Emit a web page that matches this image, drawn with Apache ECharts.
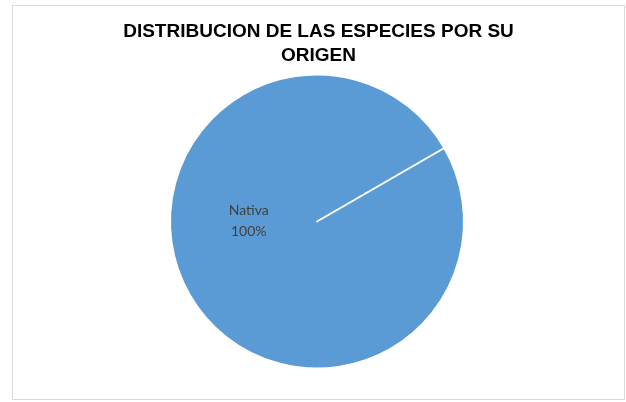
<!DOCTYPE html>
<html>
<head>
<meta charset="utf-8">
<script src="https://cdn.jsdelivr.net/npm/echarts@6/dist/echarts.min.js"></script>
<style>
html,body{margin:0;padding:0;background:#fff;}
#frame{position:absolute;left:12px;top:5px;width:611px;height:393px;border:1px solid #d9d9d9;}
#chart{width:611px;height:393px;}
</style>
</head>
<body>
<div id="frame"><div id="chart"></div></div>
<script>
var titleText = 'DISTRIBUCION DE LAS ESPECIES POR SU\nORIGEN';
var categories = ['Nativa', ''];
var values = [100, 0];
var percentLabels = ['100%', ''];

var chart = echarts.init(document.getElementById('chart'), null, {renderer: 'canvas'});
var data = categories.map(function (c, i) {
  var item = {name: c, value: values[i]};
  if (values[i] === 0) {
    item.label = {show: false};
    item.labelLine = {show: false};
  }
  return item;
});
chart.setOption({
  animation: false,
  title: {
    text: titleText,
    left: 'center',
    top: 9,
    textStyle: {fontFamily: 'Liberation Sans, Arial', fontWeight: 'bold', fontSize: 19, color: '#000', lineHeight: 24}
  },
  series: [{
    type: 'pie',
    center: [304, 215.5],
    radius: 147,
    startAngle: 30,
    clockwise: true,
    stillShowZeroSum: true,
    avoidLabelOverlap: false,
    itemStyle: {color: '#5b9bd5', borderColor: '#ffffff', borderWidth: 2},
    label: {
      show: true,
      position: 'inside',
      offset: [-2, -39],
      formatter: function (p) { return p.name + '\n' + percentLabels[p.dataIndex]; },
      fontFamily: 'Lato, Open Sans, sans-serif',
      fontSize: 14,
      lineHeight: 21,
      color: '#404040'
    },
    labelLine: {show: false},
    emphasis: {disabled: true},
    data: data
  }]
});
</script>
</body>
</html>
